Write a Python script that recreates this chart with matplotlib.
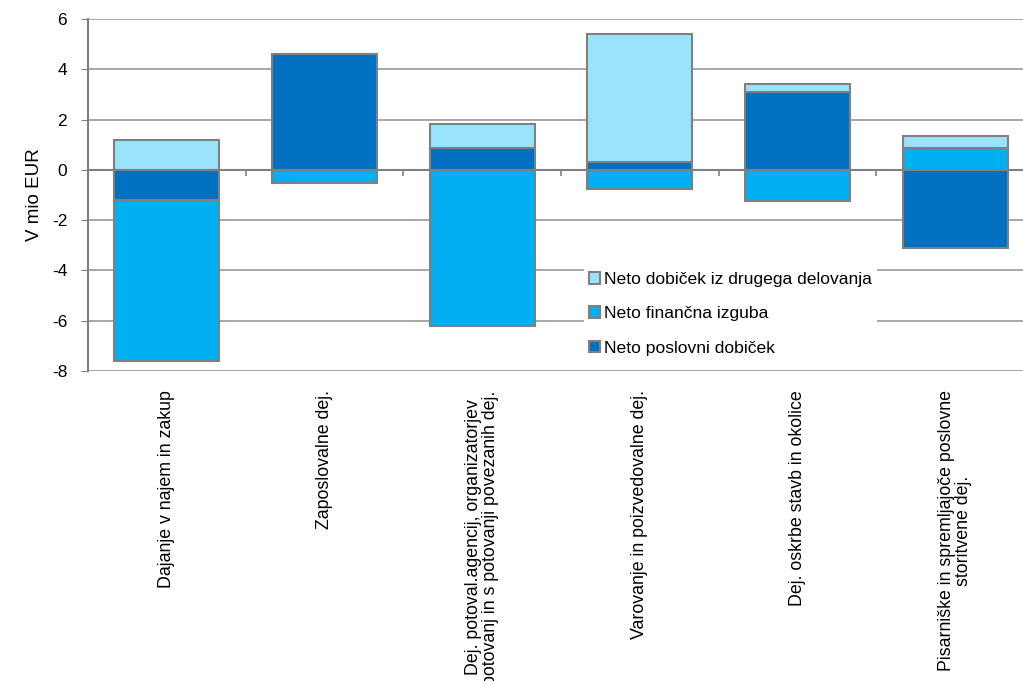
"""Stacked bars: net profit components by activity"""

import numpy as np
import matplotlib
matplotlib.use('Agg')
import matplotlib.pyplot as plt
import matplotlib.transforms as mtransforms

plt.rcParams['font.family'] = ['Liberation Sans', 'DejaVu Sans']
plt.rcParams['axes.unicode_minus'] = False

categories = ['Dajanje v najem in zakup',
              'Zaposlovalne dej.',
              'Dej. potoval.agencij, organizatorjev\npotovanj in s potovanji povezanih dej.',
              'Varovanje in poizvedovalne dej.',
              'Dej. oskrbe stavb in okolice',
              'Pisarniške in spremljajoče poslovne\nstoritvene dej.']
series_names = ['Neto poslovni dobiček', 'Neto finančna izguba',
                'Neto dobiček iz drugega delovanja']
poslovni = [-1.2, 4.62, 0.88, 0.3, 3.1, -3.1]      # dark blue
financna = [-6.4, -0.48, -6.23, -0.78, -1.22, 0.88]  # mid blue
drugo = [1.2, -0.05, 0.95, 5.1, 0.32, 0.48]         # pale blue
colors = ['#0070C0', '#00B0F0', '#99E3FC']

fig = plt.figure(figsize=(10.23, 6.81), dpi=100)
ax = fig.add_axes([88 / 1023, 1 - 371 / 681, (1034 - 88) / 1023, (371 - 19) / 681])

x = np.arange(len(categories))
pos = np.zeros(len(categories))
neg = np.zeros(len(categories))
bars = []
for vals, name, c in zip([poslovni, financna, drugo], series_names, colors):
    vals = np.array(vals)
    bottom = np.where(vals >= 0, pos, neg)
    b = ax.bar(x, vals, width=0.667, bottom=bottom, color=c, edgecolor='#808080',
               linewidth=1.5, label=name, zorder=3)
    bars.append(b)
    pos = pos + np.where(vals >= 0, vals, 0)
    neg = neg + np.where(vals < 0, vals, 0)

ax.set_xlim(-0.5, 5.5)
ax.set_ylim(-8, 6)
ax.set_yticks(range(-8, 7, 2))
ax.grid(axis='y', color='#a0a0a0', linewidth=1.3, zorder=0)
ax.tick_params(axis='y', direction='out', length=5, color='#808080', labelsize=12.5, pad=10)

for s in ['top', 'right']:
    ax.spines[s].set_visible(False)
ax.spines['left'].set_color('#808080')
ax.spines['left'].set_linewidth(1.5)
ax.spines['bottom'].set_position(('data', 0))
ax.spines['bottom'].set_color('#808080')
ax.spines['bottom'].set_linewidth(1.5)
ax.spines['bottom'].set_zorder(4)
ax.set_xticks(x[1:] - 0.5)
ax.set_xticklabels([])
ax.tick_params(axis='x', direction='out', length=4, color='#808080', width=1.2)

# category labels below the plot area
trans = mtransforms.blended_transform_factory(ax.transData, ax.transAxes)
for i, lab in enumerate(categories):
    ax.text(i, -0.055, lab, transform=trans, rotation=90, ha='center', va='top',
            fontsize=12.8, multialignment='center', linespacing=1.0)

ax.set_ylabel('V mio EUR', fontsize=13.5, labelpad=6)

handles = [bars[2], bars[1], bars[0]]
leg = ax.legend(handles, [series_names[2], series_names[1], series_names[0]],
                loc='upper left', bbox_to_anchor=(575 / 1023, 1 - 258 / 681),
                bbox_transform=fig.transFigure, fontsize=12.6, frameon=True,
                fancybox=False, handlelength=0.65, handleheight=0.65,
                handletextpad=0.2, labelspacing=1.1, borderpad=0.3)
leg.get_frame().set_facecolor('white')
leg.get_frame().set_edgecolor('none')
leg.get_frame().set_alpha(1)
leg.set_zorder(5)

fig.savefig('out.png', dpi=100)
